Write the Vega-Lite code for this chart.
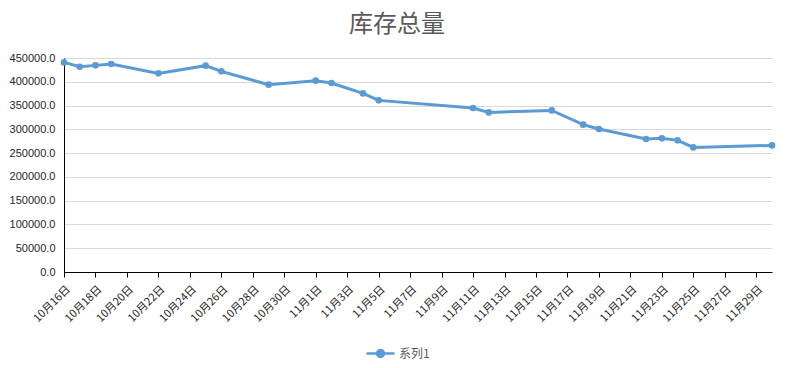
{
  "$schema": "https://vega.github.io/schema/vega-lite/v6.json",
  "width": 708,
  "height": 214,
  "autosize": "none",
  "padding": {"left": 64, "top": 58, "right": 21, "bottom": 96},
  "background": "white",
  "title": {
    "text": "库存总量",
    "font": "Noto Sans CJK SC",
    "fontSize": 24,
    "fontWeight": "normal",
    "color": "#595959",
    "anchor": "middle",
    "dx": -21,
    "offset": 15
  },
  "config": {
    "view": {"stroke": null},
    "axis": {"labelFont": "Liberation Sans", "labelColor": "#404040", "gridColor": "#d9d9d9", "gridWidth": 1}
  },
  "data": {
    "values": [
      {"date": "2019-10-16", "value": 440800, "series": "系列1"},
      {"date": "2019-10-17", "value": 431700, "series": "系列1"},
      {"date": "2019-10-18", "value": 434500, "series": "系列1"},
      {"date": "2019-10-19", "value": 437400, "series": "系列1"},
      {"date": "2019-10-22", "value": 417700, "series": "系列1"},
      {"date": "2019-10-25", "value": 433900, "series": "系列1"},
      {"date": "2019-10-26", "value": 421900, "series": "系列1"},
      {"date": "2019-10-29", "value": 393900, "series": "系列1"},
      {"date": "2019-11-01", "value": 402300, "series": "系列1"},
      {"date": "2019-11-02", "value": 397500, "series": "系列1"},
      {"date": "2019-11-04", "value": 375600, "series": "系列1"},
      {"date": "2019-11-05", "value": 360900, "series": "系列1"},
      {"date": "2019-11-11", "value": 344900, "series": "系列1"},
      {"date": "2019-11-12", "value": 335600, "series": "系列1"},
      {"date": "2019-11-16", "value": 339800, "series": "系列1"},
      {"date": "2019-11-18", "value": 309800, "series": "系列1"},
      {"date": "2019-11-19", "value": 300700, "series": "系列1"},
      {"date": "2019-11-22", "value": 279700, "series": "系列1"},
      {"date": "2019-11-23", "value": 281000, "series": "系列1"},
      {"date": "2019-11-24", "value": 276800, "series": "系列1"},
      {"date": "2019-11-25", "value": 262000, "series": "系列1"},
      {"date": "2019-11-30", "value": 266200, "series": "系列1"}
    ]
  },
  "encoding": {
    "x": {
      "field": "date",
      "type": "temporal",
      "scale": {
        "type": "utc",
        "domain": [
          {"year": 2019, "month": 10, "date": 16, "utc": true},
          {"year": 2019, "month": 11, "date": 30, "utc": true}
        ]
      },
      "axis": {
        "title": null,
        "grid": false,
        "values": [
          {"year": 2019, "month": 10, "date": 16, "utc": true},
          {"year": 2019, "month": 10, "date": 18, "utc": true},
          {"year": 2019, "month": 10, "date": 20, "utc": true},
          {"year": 2019, "month": 10, "date": 22, "utc": true},
          {"year": 2019, "month": 10, "date": 24, "utc": true},
          {"year": 2019, "month": 10, "date": 26, "utc": true},
          {"year": 2019, "month": 10, "date": 28, "utc": true},
          {"year": 2019, "month": 10, "date": 30, "utc": true},
          {"year": 2019, "month": 11, "date": 1, "utc": true},
          {"year": 2019, "month": 11, "date": 3, "utc": true},
          {"year": 2019, "month": 11, "date": 5, "utc": true},
          {"year": 2019, "month": 11, "date": 7, "utc": true},
          {"year": 2019, "month": 11, "date": 9, "utc": true},
          {"year": 2019, "month": 11, "date": 11, "utc": true},
          {"year": 2019, "month": 11, "date": 13, "utc": true},
          {"year": 2019, "month": 11, "date": 15, "utc": true},
          {"year": 2019, "month": 11, "date": 17, "utc": true},
          {"year": 2019, "month": 11, "date": 19, "utc": true},
          {"year": 2019, "month": 11, "date": 21, "utc": true},
          {"year": 2019, "month": 11, "date": 23, "utc": true},
          {"year": 2019, "month": 11, "date": 25, "utc": true},
          {"year": 2019, "month": 11, "date": 27, "utc": true},
          {"year": 2019, "month": 11, "date": 29, "utc": true}
        ],
        "format": "%-m月%-d日",
        "labelAngle": -45,
        "labelFont": "Noto Sans CJK SC",
        "labelFontSize": 11,
        "labelColor": "#262626",
        "labelPadding": 6,
        "labelOverlap": false,
        "labelFlush": false,
        "tickColor": "#000000",
        "tickSize": 5,
        "domainColor": "#000000"
      }
    },
    "y": {
      "field": "value",
      "type": "quantitative",
      "scale": {"domain": [0, 450000], "nice": false},
      "axis": {
        "title": null,
        "values": [0, 50000, 100000, 150000, 200000, 250000, 300000, 350000, 400000, 450000],
        "format": ".1f",
        "ticks": false,
        "labelPadding": 9,
        "labelFontSize": 11,
        "labelColor": "#262626",
        "domainColor": "#000000"
      }
    }
  },
  "layer": [
    {
      "mark": {"type": "line", "color": "#5B9BD5", "strokeWidth": 3}
    },
    {
      "mark": {"type": "point", "filled": true, "size": 44, "opacity": 1},
      "encoding": {
        "color": {
          "field": "series",
          "type": "nominal",
          "scale": {"range": ["#5B9BD5"]},
          "legend": {
            "title": null,
            "orient": "none",
            "legendX": 301,
            "legendY": 280,
            "symbolType": "M-1,0L1,0M-0.25,0A0.25,0.25,0,1,0,0.25,0A0.25,0.25,0,1,0,-0.25,0Z",
            "symbolSize": 784,
            "symbolStrokeColor": "#5B9BD5",
            "symbolStrokeWidth": 2.5,
            "symbolOpacity": 1,
            "labelFont": "Noto Sans CJK SC",
            "labelFontSize": 12,
            "labelColor": "#595959",
            "labelOffset": 3
          }
        }
      }
    }
  ]
}
